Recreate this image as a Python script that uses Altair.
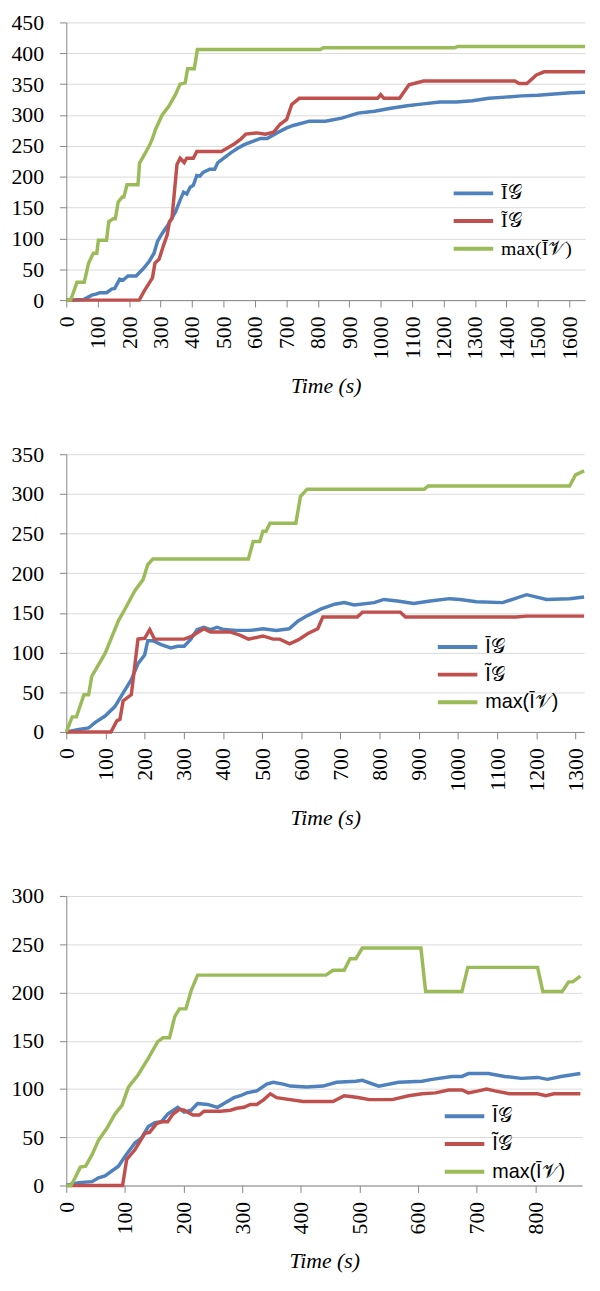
import altair as alt
import pandas as pd

L_BAR = "Ī𝒢"
L_TIL = "Ĩ𝒢"
L_MAX = "max(Ī𝒱)"
SERIES = [L_BAR, L_TIL, L_MAX]
COLORS = ["#4f81bd", "#c0504d", "#9bbb59"]

# ---- panel 1 ----
b1_t = [0, 55, 81, 97, 107, 128, 144, 154, 170, 180, 196, 222, 243, 264, 279, 290, 305, 326, 347, 362, 373, 383, 394, 404, 415, 425, 435, 456, 472, 482, 503, 524, 545, 566, 597, 618, 639, 670, 701, 722, 773, 824, 876, 928, 980, 1032, 1084, 1136, 1188, 1240, 1292, 1344, 1396, 1448, 1500, 1552, 1604, 1650]
b1_v = [0, 1, 8, 10, 12, 12, 18, 19, 34, 32, 39, 39, 50, 63, 76, 95, 108, 124, 143, 162, 175, 172, 183, 186, 202, 201, 207, 212, 212, 223, 231, 239, 246, 252, 258, 262, 262, 271, 279, 283, 290, 290, 295, 303, 306, 311, 315, 318, 321, 321, 323, 327, 329, 331, 332, 334, 336, 337]
r1_t = [0, 232, 248, 274, 282, 295, 310, 321, 328, 336, 352, 362, 375, 383, 404, 415, 493, 514, 534, 555, 571, 607, 633, 659, 680, 701, 717, 741, 990, 1000, 1010, 1060, 1090, 1136, 1427, 1440, 1465, 1495, 1520, 1650]
r1_v = [0, 0, 15, 36, 60, 66, 90, 106, 127, 132, 220, 230, 223, 230, 230, 241, 241, 247, 253, 261, 269, 271, 269, 272, 285, 293, 317, 327, 327, 333, 327, 327, 349, 355, 355, 351, 351, 365, 370, 370]
g1_t = [0, 14, 34, 57, 71, 86, 97, 102, 128, 135, 149, 156, 165, 178, 183, 193, 228, 233, 243, 264, 274, 284, 305, 326, 347, 362, 378, 386, 407, 417, 808, 818, 1235, 1245, 1650]
g1_v = [0, 0, 29, 29, 60, 76, 76, 97, 97, 127, 132, 132, 159, 167, 167, 187, 187, 222, 231, 250, 262, 277, 300, 314, 333, 350, 352, 375, 375, 406, 406, 409, 409, 411, 411]

# ---- panel 2 ----
b2_t = [0, 32, 57, 74, 99, 124, 150, 166, 183, 200, 208, 221, 242, 267, 284, 301, 318, 334, 351, 368, 385, 402, 435, 469, 502, 536, 569, 592, 617, 651, 685, 710, 735, 786, 811, 845, 887, 929, 979, 1005, 1047, 1114, 1175, 1226, 1285, 1322]
b2_v = [0, 3, 5, 12, 20, 32, 53, 66, 86, 97, 115, 115, 110, 106, 108, 108, 117, 129, 132, 129, 132, 129, 128, 128, 130, 128, 130, 140, 147, 155, 161, 163, 160, 163, 167, 165, 162, 165, 168, 167, 164, 163, 173, 167, 168, 170]
r2_t = [0, 114, 129, 137, 145, 166, 183, 200, 213, 225, 301, 318, 351, 368, 418, 443, 465, 502, 528, 545, 570, 592, 617, 642, 655, 743, 756, 853, 866, 1148, 1175, 1322]
r2_v = [0, 0, 14, 16, 39, 47, 117, 118, 129, 117, 117, 120, 130, 126, 126, 122, 117, 121, 117, 117, 111, 116, 124, 130, 145, 145, 151, 151, 145, 145, 146, 146]
g2_t = [0, 15, 26, 45, 57, 65, 99, 133, 150, 175, 196, 208, 221, 465, 477, 494, 502, 510, 520, 586, 598, 615, 914, 924, 1285, 1300, 1322]
g2_v = [0, 19, 19, 47, 47, 70, 99, 140, 155, 178, 192, 211, 218, 218, 240, 240, 253, 253, 263, 263, 297, 306, 306, 310, 310, 324, 329]

# ---- panel 3 ----
b3_t = [0, 21, 44, 55, 66, 89, 100, 117, 128, 140, 151, 162, 173, 190, 201, 213, 224, 241, 258, 269, 286, 297, 308, 325, 342, 353, 370, 382, 410, 438, 461, 494, 505, 533, 567, 607, 624, 658, 675, 686, 720, 748, 776, 804, 821, 844, 877]
b3_v = [0, 3, 4, 8, 10, 20, 30, 44, 49, 61, 65, 66, 74, 81, 76, 78, 85, 84, 81, 85, 91, 93, 96, 98, 105, 107, 105, 103, 102, 103, 107, 108, 109, 103, 107, 108, 110, 113, 113, 116, 116, 113, 111, 112, 110, 113, 116]
r3_t = [0, 96, 103, 117, 134, 142, 154, 162, 173, 182, 193, 201, 216, 227, 235, 263, 280, 291, 303, 314, 325, 337, 348, 359, 370, 404, 455, 474, 488, 500, 517, 556, 584, 607, 630, 652, 675, 686, 703, 717, 731, 756, 804, 818, 832, 877]
r3_v = [0, 0, 27, 37, 54, 55, 64, 66, 66, 74, 79, 78, 73, 73, 77, 77, 78, 80, 81, 84, 84, 89, 95, 91, 90, 87, 87, 93, 92, 91, 89, 89, 93, 95, 96, 99, 99, 96, 98, 100, 98, 95, 95, 93, 95, 95]
g3_t = [0, 8, 15, 24, 33, 44, 55, 69, 83, 95, 106, 123, 140, 156, 165, 176, 185, 193, 204, 213, 224, 443, 455, 474, 484, 494, 505, 605, 613, 675, 685, 804, 813, 846, 857, 864, 877]
g3_v = [0, 0, 8, 19, 20, 32, 47, 59, 74, 83, 102, 115, 132, 149, 153, 153, 175, 183, 183, 202, 218, 218, 223, 223, 235, 235, 246, 246, 201, 201, 226, 226, 201, 201, 211, 211, 217]

SERIF = "Liberation Serif"
SANS = "Liberation Sans"
EXT = 59


def frame(series):
    rows = []
    for name, (ts, vs) in zip(SERIES, series):
        for i, (t, v) in enumerate(zip(ts, vs)):
            rows.append({"t": t, "v": v, "s": name, "i": i})
    return pd.DataFrame(rows)


def panel(series, xmax, xstep, ymax, ystep, w, h, lx, ly, lfont):
    df = frame(series)
    xticks = [x for x in range(0, xmax + 1, xstep)]
    yticks = list(range(0, ymax + 1, ystep))
    return alt.Chart(df).mark_line(strokeWidth=3.5).encode(
        x=alt.X("t:Q", scale=alt.Scale(domain=[0, xmax], nice=False),
                axis=alt.Axis(values=xticks, format="d", labelAngle=270, title="Time (s)",
                              grid=False, labelPadding=9, tickSize=7, titlePadding=17)),
        y=alt.Y("v:Q", scale=alt.Scale(domain=[0, ymax], nice=False),
                axis=alt.Axis(values=yticks, format="d", title=None, grid=True,
                              labelPadding=16, tickSize=7, minExtent=EXT)),
        color=alt.Color("s:N", scale=alt.Scale(domain=SERIES, range=COLORS),
                        legend=alt.Legend(title=None, orient="none", legendX=lx, legendY=ly,
                                          symbolType="stroke", symbolStrokeWidth=4,
                                          symbolSize=1600, labelFont=lfont,
                                          labelFontSize=20, labelColor="black",
                                          rowPadding=6, clipHeight=22, labelOffset=6)),
        order="i:Q",
    ).properties(width=w, height=h)


p1 = panel([(b1_t, b1_v), (r1_t, r1_v), (g1_t, g1_v)], 1650, 100, 450, 50, 525, 281, 390, 162, SERIF)
p2 = panel([(b2_t, b2_v), (r2_t, r2_v), (g2_t, g2_v)], 1322, 100, 350, 50, 524, 281, 374, 184, SANS)
p3 = panel([(b3_t, b3_v), (r3_t, r3_v), (g3_t, g3_v)], 880, 100, 300, 50, 522, 293, 381, 212, SANS)

lower = alt.vconcat(p2, p3, spacing=57).resolve_scale(color="independent").resolve_legend(
    color="independent")

chart = alt.vconcat(p1, lower, spacing=47).resolve_scale(color="independent").resolve_legend(
    color="independent"
).configure(font=SERIF).configure_view(stroke=None).configure_axis(
    labelFont=SERIF, labelFontSize=22, labelColor="black",
    titleFont=SERIF, titleFontSize=22, titleFontStyle="italic", titleFontWeight="normal",
    titleColor="black",
    domainColor="#868686", tickColor="#868686", gridColor="#d9d9d9",
).properties(padding={"left": 0, "top": -4, "right": 0, "bottom": 0})

chart.save("out.html", embed_options={"renderer": "svg", "actions": False})
